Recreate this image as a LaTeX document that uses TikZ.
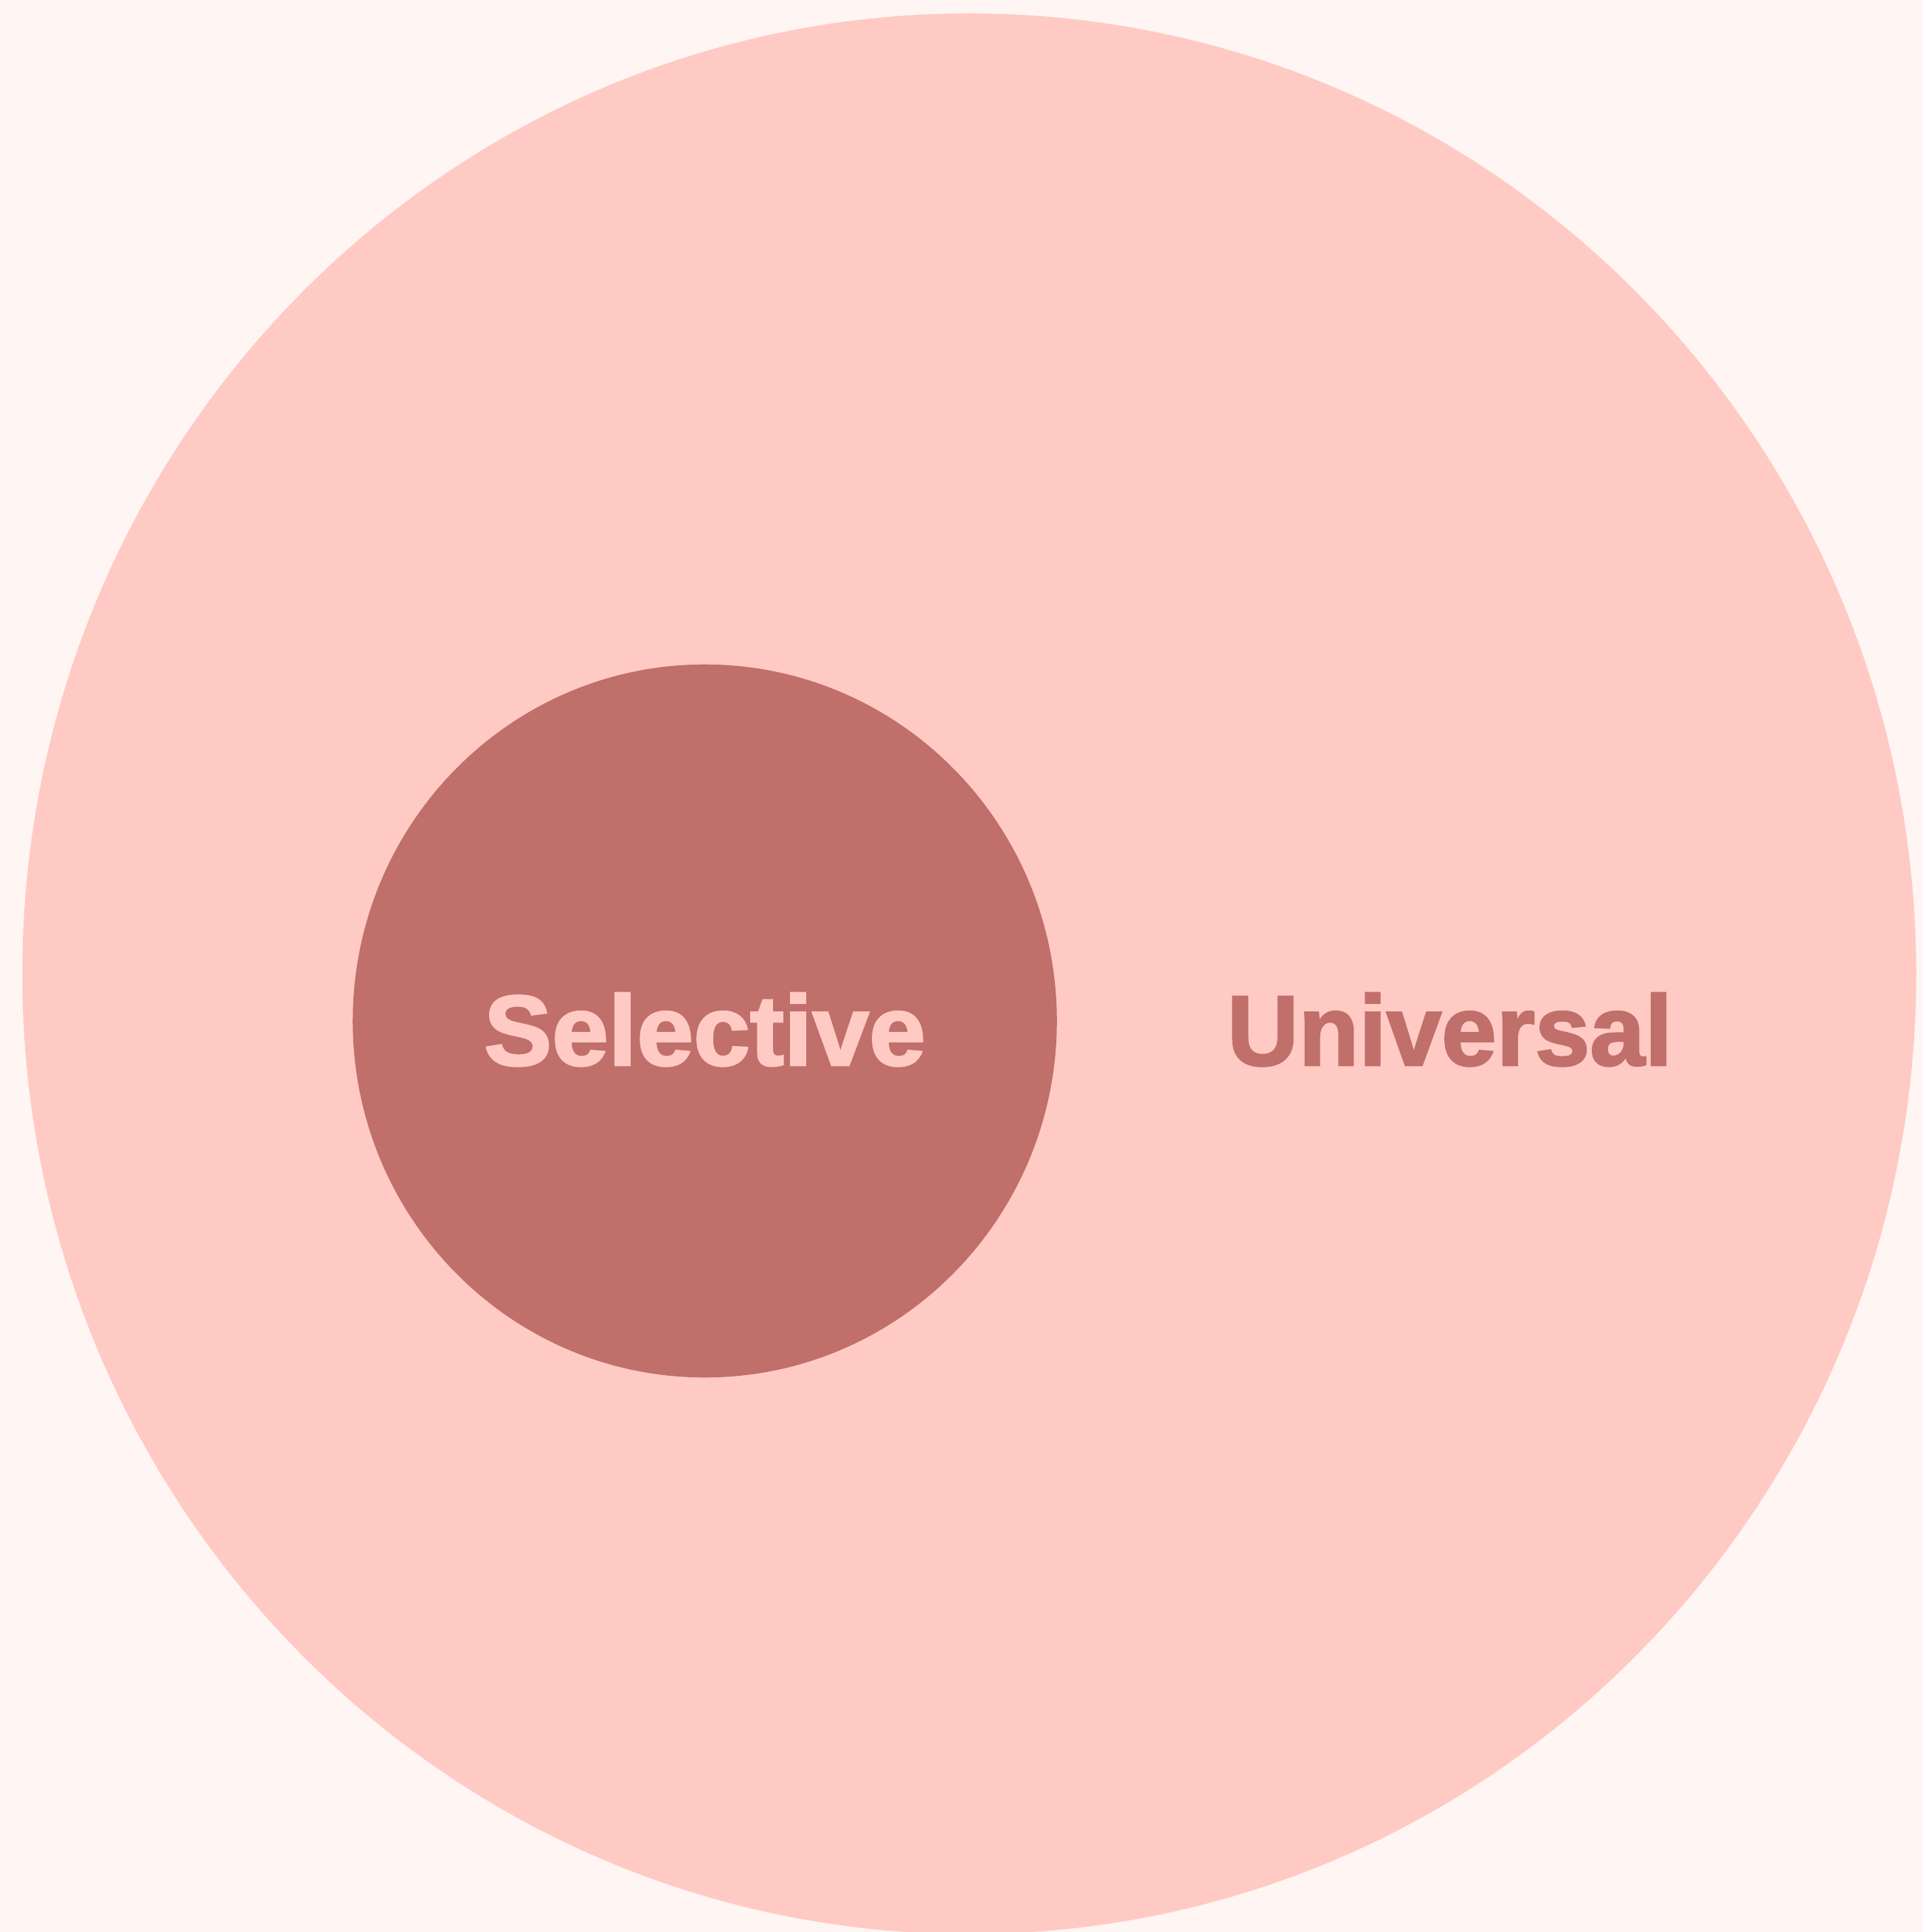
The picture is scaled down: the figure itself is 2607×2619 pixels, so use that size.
\documentclass[tikz,border=0pt]{standalone}
\usepackage{fontspec}
\setmainfont{Liberation Sans}
\newfontfamily\heavyfont[FakeBold=2]{Liberation Sans Bold}
\usetikzlibrary{shapes.geometric}
\definecolor{bgc}{HTML}{FFF5F2}
\definecolor{outerc}{HTML}{FFCAC4}
\definecolor{innerc}{HTML}{C16F6A}
\tikzset{
  blob/.style={ellipse, inner sep=0pt, outer sep=0pt},
  lbl/.style={anchor=base, inner sep=0pt, font=\heavyfont\fontsize{38.5}{40}\selectfont}
}
\begin{document}
\begin{tikzpicture}[x=0.01cm, y=-0.01cm]
\useasboundingbox (0,0) rectangle (2607,2619);
\clip (0,0) rectangle (2607,2619);
\fill[bgc] (0,0) rectangle (2607,2619);
\node[blob, fill=outerc, minimum width=25.66cm, minimum height=26.02cm] (universe) at (1314,1320) {};
\node[blob, fill=innerc, minimum width=9.54cm, minimum height=9.66cm] (selective) at (955.5,1384) {};
\node[lbl, text=outerc] (seltext) at (955.5,1444) {\scalebox{1.02}[1]{Selective}};
\node[lbl, text=innerc] (unitext) at (1965.5,1444) {\scalebox{0.99}[1]{Universal}};
\end{tikzpicture}
\end{document}
